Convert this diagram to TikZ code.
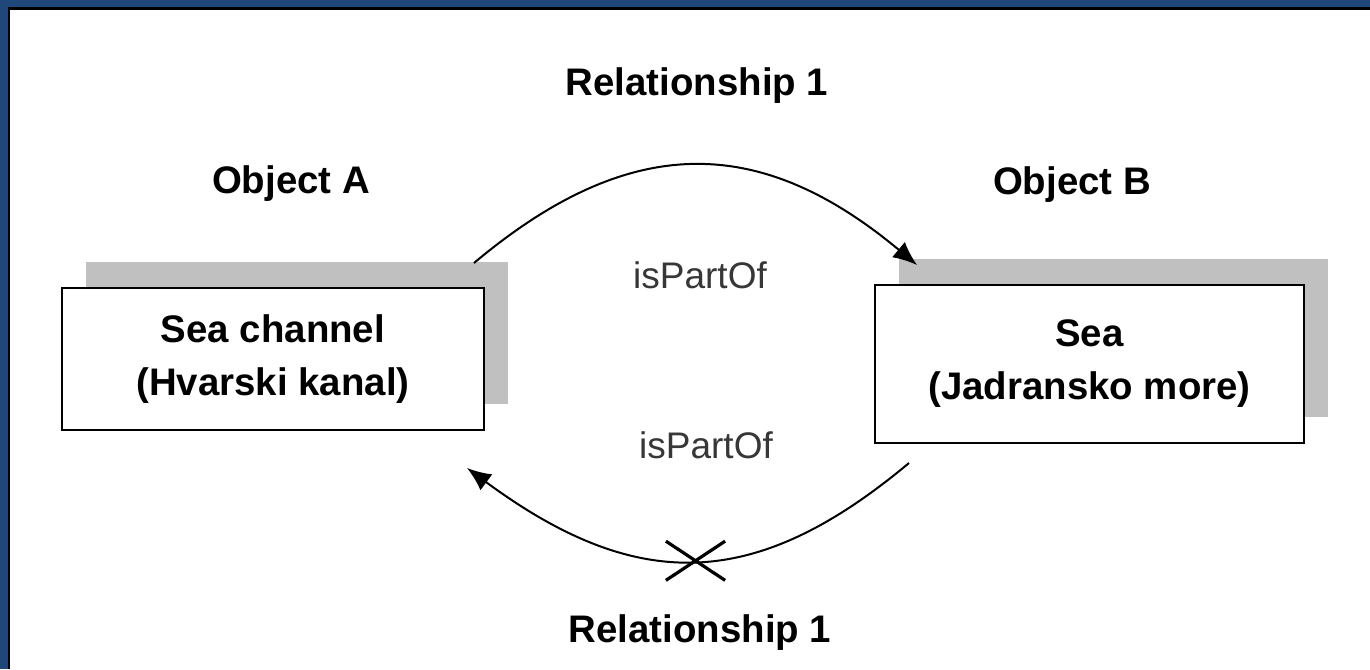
\documentclass[tikz,border=0pt]{standalone}
\usepackage{fontspec}
\setmainfont{Liberation Sans}
\usetikzlibrary{arrows.meta,shadows,shapes.misc}
\definecolor{frameblue}{RGB}{31,71,122}
\definecolor{shadowgray}{RGB}{192,192,192}
\definecolor{textgray}{RGB}{55,55,55}

\begin{document}
\begin{tikzpicture}[x=0.5pt, y=-0.5pt, thick,
        main/.style = {draw, line width=1pt, fill=white, minimum width=211pt, minimum height=71pt, align=center,
            font=\fontsize{19.2}{26.5}\selectfont\bfseries,
            drop shadow={shadow xshift=12pt, shadow yshift=13pt, fill=shadowgray, opacity=1}},
        title/.style = {anchor=base, inner sep=0pt, font=\fontsize{19.2}{23}\selectfont\bfseries},
        rel/.style = {anchor=base, inner sep=0pt, text=textgray, font=\fontsize{18.5}{22}\selectfont},
        arc/.style = {line width=1pt, -{Latex[length=12pt, width=10pt]}},
        cut/.style = {cross out, draw, line width=1.6pt, minimum width=28pt, minimum height=18pt, inner sep=0pt}]
    \useasboundingbox (0,0) rectangle (1370,669);

    % frame
    \fill[frameblue] (0,0) rectangle (1370,7);
    \fill[frameblue] (0,0) rectangle (8,669);
    \fill[black] (8,7) rectangle (1370,9.5);
    \fill[black] (8,7) rectangle (10,669);

    \node[main] (A) at (273,359) {Sea channel\\(Hvarski kanal)};
    \node[main, minimum width=214.5pt, minimum height=79pt] (B) at (1089.5,364) {Sea\\(Jadransko more)};

    \node[title] (objA) at (291,193) {Object A};
    \node[title] (objB) at (1072,194) {Object B};
    \node[title] (relTop) at (697,95) {Relationship 1};
    \node[title] (relBot) at (700,642) {Relationship 1};
    \node[rel] (partTop) at (700,288) {isPartOf};
    \node[rel] (partBot) at (706,458) {isPartOf};

    % arc ends
    \coordinate (aOut) at (474,263);
    \coordinate (bIn) at (917,265);
    \coordinate (bOut) at (909,463);
    \coordinate (aIn) at (467,468);

    % relationships
    \draw[arc] (aOut) .. controls (630,132) and (760,134) .. (bIn);
    \draw[arc] (bOut) .. controls (757,590) and (639,595) .. (aIn) node[cut, pos=0.5] (x) {};
\end{tikzpicture}
\end{document}
